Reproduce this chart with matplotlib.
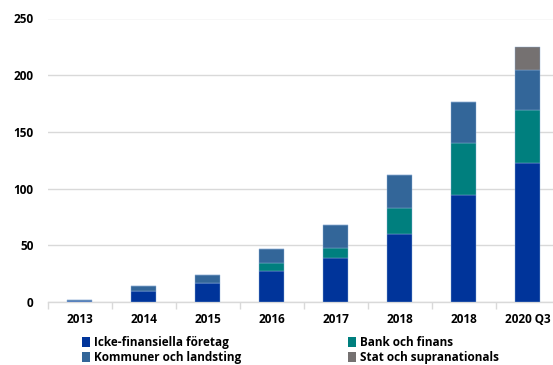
import numpy as np
import matplotlib.pyplot as plt
from matplotlib.patches import Patch

# Utestående gröna obligationer per emittentkategori
years = ["2013", "2014", "2015", "2016", "2017", "2018", "2018", "2020 Q3"]
icke_finansiella = [0.5, 10, 17, 27, 39, 60, 94, 123]
bank_finans = [0, 0, 0, 7, 9, 23, 46, 46]
kommuner = [1.5, 4, 7, 13, 20, 29, 36, 36]
stat_supra = [0, 0, 0, 0, 0, 0, 0, 20]

series = [
    ("Icke-finansiella företag", icke_finansiella, "#00349A"),
    ("Bank och finans", bank_finans, "#007F7E"),
    ("Kommuner och landsting", kommuner, "#336699"),
    ("Stat och supranationals", stat_supra, "#757171"),
]

plt.rcParams['font.family'] = ['Open Sans', 'DejaVu Sans']
plt.rcParams['font.weight'] = 'bold'

fig = plt.figure(figsize=(5.53, 3.65), dpi=100)
ax = fig.add_axes([47.5 / 553, 63 / 365, 512 / 553, 283.5 / 365])

x = np.arange(len(years))
bottom = np.zeros(len(years))
for name, vals, color in series:
    vals = np.array(vals, dtype=float)
    ax.bar(x, vals, width=0.39, bottom=bottom, color=color,
           edgecolor="#8FAFD6", linewidth=0.3, label=name, zorder=3)
    bottom += vals

ax.set_xlim(-0.5, len(years) - 0.5)
ax.set_ylim(0, 250)
ax.set_yticks(np.arange(0, 251, 50))
ax.yaxis.grid(True, color="#D9D9D9", linewidth=1.0, zorder=0)

for side in ["left", "right", "top"]:
    ax.spines[side].set_visible(False)
ax.spines["bottom"].set_color("#D9D9D9")
ax.spines["bottom"].set_linewidth(1.0)

# tick marks sit between the categories, labels in the middle
ax.set_xticks(np.arange(-0.5, len(years), 1.0))
ax.set_xticklabels([])
ax.set_xticks(x, minor=True)
ax.set_xticklabels(years, minor=True)
ax.tick_params(axis="x", which="major", length=5, color="#D9D9D9", width=1)
ax.tick_params(axis="x", which="minor", length=0, pad=8, labelsize=8.5)
ax.tick_params(axis="y", length=0, pad=10, labelsize=8.5)

handles = [Patch(facecolor=c, label=n) for n, _, c in series]
order = [handles[0], handles[2], handles[1], handles[3]]
fig.legend(handles=order, loc="upper left", bbox_to_anchor=(82 / 553, 1 - 336 / 365),
           ncol=2, frameon=False, fontsize=8.5, handlelength=0.7, handleheight=0.9,
           handletextpad=0.35, columnspacing=9.0, labelspacing=0.2,
           borderaxespad=0, borderpad=0)

fig.savefig("out.png", dpi=100)
